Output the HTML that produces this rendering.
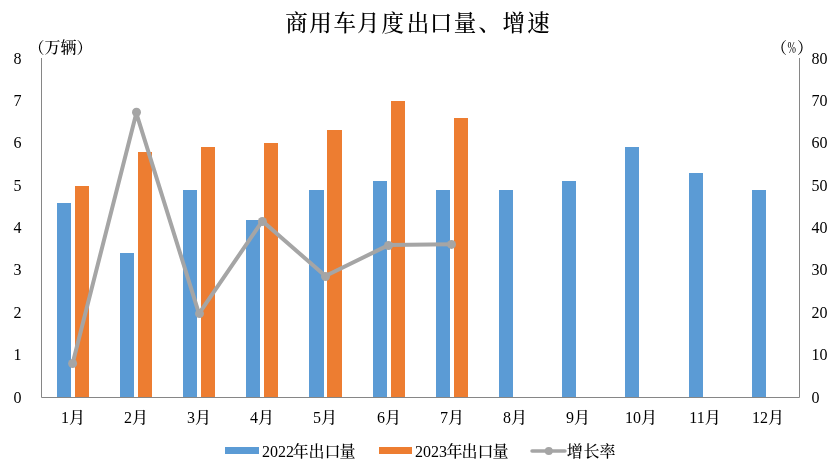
<!DOCTYPE html><html><head><meta charset="utf-8"><title>商用车月度出口量、增速</title><style>html,body{margin:0;padding:0;background:#fff;}svg{display:block;will-change:transform;}text{font-family:'Liberation Serif','Noto Serif CJK SC',serif;fill:#000;font-weight:500;}</style></head><body>
<svg width="839" height="466" viewBox="0 0 839 466">
<rect x="0" y="0" width="839" height="466" fill="#fff"/>
<text x="285.25 309.15 333.45 357.05 381.45 406.75 429.65 453.75 478.45 502.55 527.25" y="31" font-size="22.5" font-weight="300">商用车月度出口量、增速</text>
<text x="28.5" y="53" font-size="16">（万辆）</text>
<text x="771" y="53" font-size="16">（</text><text x="787.5" y="53" font-size="16" textLength="8.5" lengthAdjust="spacingAndGlyphs">%</text><text x="797" y="53" font-size="16">）</text>
<rect x="57" y="203" width="14" height="194" fill="#5B9BD5"/>
<rect x="120" y="253" width="14" height="144" fill="#5B9BD5"/>
<rect x="183" y="190" width="14" height="207" fill="#5B9BD5"/>
<rect x="246" y="220" width="14" height="177" fill="#5B9BD5"/>
<rect x="309" y="190" width="15" height="207" fill="#5B9BD5"/>
<rect x="373" y="181" width="14" height="216" fill="#5B9BD5"/>
<rect x="436" y="190" width="14" height="207" fill="#5B9BD5"/>
<rect x="499" y="190" width="14" height="207" fill="#5B9BD5"/>
<rect x="562" y="181" width="14" height="216" fill="#5B9BD5"/>
<rect x="625" y="147" width="14" height="250" fill="#5B9BD5"/>
<rect x="689" y="173" width="14" height="224" fill="#5B9BD5"/>
<rect x="752" y="190" width="14" height="207" fill="#5B9BD5"/>
<rect x="75" y="186" width="14" height="211" fill="#ED7D31"/>
<rect x="138" y="152" width="14" height="245" fill="#ED7D31"/>
<rect x="201" y="147" width="14" height="250" fill="#ED7D31"/>
<rect x="264" y="143" width="14" height="254" fill="#ED7D31"/>
<rect x="327" y="130" width="15" height="267" fill="#ED7D31"/>
<rect x="391" y="101" width="14" height="296" fill="#ED7D31"/>
<rect x="454" y="118" width="14" height="279" fill="#ED7D31"/>
<path d="M41.5 58 V397.5 H799.5 V58" fill="none" stroke="#868686" stroke-width="1"/>
<text x="21.5" y="402.5" font-size="16" text-anchor="end">0</text>
<text x="811.5" y="402.5" font-size="16">0</text>
<text x="21.5" y="360.1" font-size="16" text-anchor="end">1</text>
<text x="811.5" y="360.1" font-size="16">10</text>
<text x="21.5" y="317.8" font-size="16" text-anchor="end">2</text>
<text x="811.5" y="317.8" font-size="16">20</text>
<text x="21.5" y="275.4" font-size="16" text-anchor="end">3</text>
<text x="811.5" y="275.4" font-size="16">30</text>
<text x="21.5" y="233.0" font-size="16" text-anchor="end">4</text>
<text x="811.5" y="233.0" font-size="16">40</text>
<text x="21.5" y="190.6" font-size="16" text-anchor="end">5</text>
<text x="811.5" y="190.6" font-size="16">50</text>
<text x="21.5" y="148.2" font-size="16" text-anchor="end">6</text>
<text x="811.5" y="148.2" font-size="16">60</text>
<text x="21.5" y="105.9" font-size="16" text-anchor="end">7</text>
<text x="811.5" y="105.9" font-size="16">70</text>
<text x="21.5" y="63.5" font-size="16" text-anchor="end">8</text>
<text x="811.5" y="63.5" font-size="16">80</text>
<text x="73.0" y="423" font-size="16" text-anchor="middle">1月</text>
<text x="136.0" y="423" font-size="16" text-anchor="middle">2月</text>
<text x="199.0" y="423" font-size="16" text-anchor="middle">3月</text>
<text x="262.0" y="423" font-size="16" text-anchor="middle">4月</text>
<text x="325.0" y="423" font-size="16" text-anchor="middle">5月</text>
<text x="389.0" y="423" font-size="16" text-anchor="middle">6月</text>
<text x="452.0" y="423" font-size="16" text-anchor="middle">7月</text>
<text x="515.0" y="423" font-size="16" text-anchor="middle">8月</text>
<text x="578.0" y="423" font-size="16" text-anchor="middle">9月</text>
<text x="641.0" y="423" font-size="16" text-anchor="middle">10月</text>
<text x="705.0" y="423" font-size="16" text-anchor="middle">11月</text>
<text x="768.0" y="423" font-size="16" text-anchor="middle">12月</text>
<path d="M72.6 363.5 L136.3 113.2 L199.0 313.6 L262.3 221.1 L325.4 276.0 L388.5 245.1 L451.5 244.2" fill="none" stroke="#A5A5A5" stroke-width="4" stroke-linejoin="round" stroke-linecap="round"/>
<circle cx="72.6" cy="363.5" r="4.5" fill="#A5A5A5"/>
<circle cx="136.5" cy="112.3" r="4.5" fill="#A5A5A5"/>
<circle cx="199.5" cy="313.6" r="4.5" fill="#A5A5A5"/>
<circle cx="262.4" cy="221.5" r="4.5" fill="#A5A5A5"/>
<circle cx="325.5" cy="276.5" r="4.5" fill="#A5A5A5"/>
<circle cx="388.5" cy="245.5" r="4.5" fill="#A5A5A5"/>
<circle cx="451.5" cy="244.4" r="4.5" fill="#A5A5A5"/>
<rect x="225" y="447" width="34" height="7" fill="#5B9BD5"/>
<text x="262 270 278 286 292.65 308.4 324.6 339.4" y="457" font-size="16">2022年出口量</text>
<rect x="379" y="447" width="33" height="7" fill="#ED7D31"/>
<text x="415 423 431 439 446.6 461.55 477.6 492.5" y="457" font-size="16">2023年出口量</text>
<path d="M532 451 H565" stroke="#A5A5A5" stroke-width="3.5" stroke-linecap="round"/>
<circle cx="548.8" cy="451" r="4" fill="#A5A5A5"/>
<text x="566.8 583.4 599.6" y="457" font-size="16">增长率</text>
</svg></body></html>
